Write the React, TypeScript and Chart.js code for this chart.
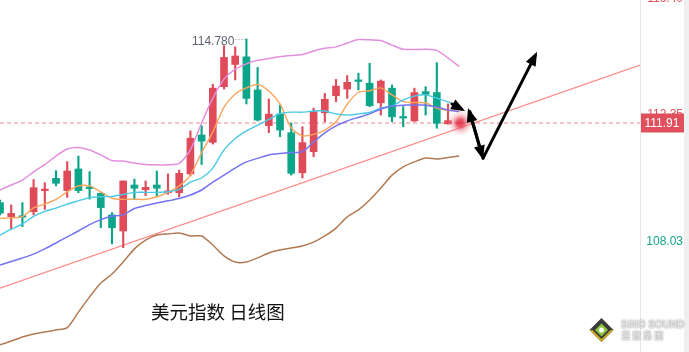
import React, { useEffect, useRef } from "react";
import { Chart, registerables } from "chart.js";

Chart.register(...registerables);

// ---- candle data (index 0 = leftmost visible bar) ----
const candleOpen = [109.19,108.71,108.73,108.88,109.60,110.02,109.60,110.34,109.69,109.51,108.77,108.22,109.79,109.63,109.79,109.53,109.53,110.17,111.50,111.25,113.15,113.91,114.17,113.04,111.82,112.22,111.58,110.21,110.93,112.26,112.84,113.07,113.36,113.27,112.60,113.10,112.10,111.98,112.98,112.95,111.88,111.89];
const candleHigh = [109.28,109.11,109.19,109.98,109.87,110.28,110.59,110.78,110.25,109.52,108.85,109.93,109.99,109.93,110.27,110.17,110.30,111.64,111.82,113.23,114.55,114.51,114.78,113.81,112.73,112.52,111.91,111.78,112.42,112.92,113.40,113.53,113.61,113.95,113.38,113.21,112.47,113.10,113.15,113.97,112.56,111.96];
const candleLow = [108.77,108.29,108.37,108.77,108.96,109.76,109.37,109.53,109.31,108.33,107.78,107.65,109.30,109.43,109.43,109.47,109.39,110.10,110.49,111.19,113.07,113.38,112.56,111.98,111.58,111.44,110.13,110.03,110.76,111.95,112.64,112.75,113.04,112.47,112.18,111.95,111.78,111.96,112.18,111.73,111.87,111.86];
const candleClose = [108.83,108.82,108.69,109.70,109.64,109.85,110.27,109.60,109.67,109.02,108.33,109.93,109.68,109.71,109.68,109.59,110.19,111.39,111.29,113.10,114.15,114.20,112.75,112.01,112.21,111.67,110.19,111.24,112.30,112.72,113.17,113.30,113.33,112.50,113.34,112.12,112.08,112.95,112.89,111.90,111.99,111.91];

// ---- indicator lines ----
const ma5 = [108.65,108.67,108.71,109.01,109.14,109.30,109.56,109.76,109.76,109.56,109.34,109.30,109.31,109.30,109.39,109.54,109.76,110.13,110.90,111.60,112.45,112.90,113.11,113.23,113.00,112.56,111.74,111.47,111.52,111.67,111.95,112.55,112.96,113.01,113.11,112.87,112.64,112.61,112.60,112.41,112.34,112.32];
const ma10 = [108.08,108.28,108.46,108.72,108.89,109.00,109.14,109.25,109.36,109.39,109.40,109.47,109.54,109.54,109.54,109.56,109.64,109.89,110.03,110.37,110.99,111.38,111.64,111.84,112.03,112.23,112.28,112.28,112.32,112.32,112.22,112.18,112.22,112.27,112.42,112.49,112.70,112.83,112.87,112.76,112.63,112.46];
const ma20 = [107.06,107.18,107.30,107.43,107.61,107.81,108.02,108.22,108.44,108.60,108.73,108.77,108.99,109.09,109.18,109.25,109.33,109.45,109.62,109.89,110.13,110.37,110.58,110.70,110.82,110.87,110.90,110.93,111.26,111.57,111.81,111.98,112.10,112.22,112.39,112.49,112.52,112.52,112.52,112.46,112.35,112.30];
const bollUpper = [109.62,109.79,109.96,110.24,110.49,110.78,111.02,111.07,110.99,110.82,110.63,110.61,110.54,110.49,110.48,110.48,110.53,110.99,111.91,112.76,113.41,113.75,113.93,114.05,114.11,114.18,114.22,114.25,114.37,114.46,114.51,114.64,114.76,114.75,114.73,114.57,114.43,114.42,114.43,114.39,114.13,113.84];
const bollLower = [104.33,104.46,104.60,104.70,104.77,104.84,104.92,105.45,105.97,106.44,106.75,107.16,107.61,107.91,108.08,108.12,108.15,108.05,108.05,107.74,107.37,107.16,107.16,107.30,107.47,107.57,107.64,107.71,107.84,108.05,108.32,108.70,108.94,109.28,109.69,110.13,110.41,110.58,110.71,110.68,110.73,110.78];

// trend line (two anchor points: bar index, price)
const trendX = [0, 57.14];
const trendY = [106.27, 113.89];

// hand-drawn arrows: [fromIndex, fromPrice, toIndex, toPrice]
const arrowSegments = [
  [40.36, 112.56, 41.52, 112.32],
  [43.13, 110.71, 41.79, 112.42],
  [41.96, 112.29, 43.13, 110.66],
  [43.13, 110.71, 47.95, 114.34],
];

// axis
const xMin = 0;
const xMax = 57.14;
const yMin = 104.086;
const yMax = 116.112;
const axisTickValues = [116.40, 112.35, 108.03];
const axisTickLabels = ["116.40", "112.35", "108.03"];
const axisTickColors = ["#e0505c", "#e0505c", "#12a58a"];
const lastPrice = 111.91;
const lastPriceLabel = "111.91";
const highIndex = 22;
const highLabel = "114.780";
const titleText = "美元指数 日线图";
const logoLine1 = "SiNO SOUND";
const logoLine2 = "漢 聲 集 團";

const RED = "#e04b59";
const GREEN = "#0ba58a";

function drawArrow(ctx: CanvasRenderingContext2D, x1: number, y1: number, x2: number, y2: number) {
  const ang = Math.atan2(y2 - y1, x2 - x1);
  const head = 14;
  const half = 5.5;
  const bx = x2 - head * Math.cos(ang);
  const by = y2 - head * Math.sin(ang);
  ctx.beginPath();
  ctx.moveTo(x1, y1);
  ctx.lineTo(x2 - 4 * Math.cos(ang), y2 - 4 * Math.sin(ang));
  ctx.stroke();
  ctx.beginPath();
  ctx.moveTo(x2, y2);
  ctx.lineTo(bx + half * Math.sin(ang), by - half * Math.cos(ang));
  ctx.lineTo(bx - half * Math.sin(ang), by + half * Math.cos(ang));
  ctx.closePath();
  ctx.fill();
}

const overlayPlugin = {
  id: "overlay",
  afterDatasetsDraw(chart: any) {
    const ctx: CanvasRenderingContext2D = chart.ctx;
    const xs = chart.scales.x;
    const ys = chart.scales.y;
    const area = chart.chartArea;
    ctx.save();
    ctx.beginPath();
    ctx.rect(area.left, area.top, area.right - area.left, area.bottom - area.top);
    ctx.clip();

    // high label
    const hx = xs.getPixelForValue(highIndex);
    const hy = ys.getPixelForValue(candleHigh[highIndex]);
    ctx.font = '12px "Liberation Sans", Arial, sans-serif';
    ctx.fillStyle = "#5d6470";
    ctx.textAlign = "right";
    ctx.textBaseline = "middle";
    ctx.fillText(highLabel, hx - 12, hy + 3);
    ctx.strokeStyle = "#8a8f98";
    ctx.lineWidth = 1;
    ctx.setLineDash([1, 2]);
    ctx.beginPath();
    ctx.moveTo(hx - 11, hy + 0.5);
    ctx.lineTo(hx - 1, hy + 0.5);
    ctx.stroke();
    ctx.setLineDash([]);

    // glow on current price
    const gx = xs.getPixelForValue(candleOpen.length - 1 + 0.1);
    const gy = ys.getPixelForValue(lastPrice);
    const g = ctx.createRadialGradient(gx, gy, 0, gx, gy, 13);
    g.addColorStop(0, "rgba(225,60,80,1)");
    g.addColorStop(0.3, "rgba(228,70,90,0.85)");
    g.addColorStop(0.6, "rgba(236,120,135,0.4)");
    g.addColorStop(1, "rgba(240,160,170,0)");
    ctx.fillStyle = g;
    ctx.beginPath();
    ctx.arc(gx, gy, 13, 0, Math.PI * 2);
    ctx.fill();

    // arrows
    ctx.strokeStyle = "#000";
    ctx.fillStyle = "#000";
    ctx.lineWidth = 3;
    ctx.lineCap = "round";
    for (const s of arrowSegments) {
      drawArrow(
        ctx,
        xs.getPixelForValue(s[0]),
        ys.getPixelForValue(s[1]),
        xs.getPixelForValue(s[2]),
        ys.getPixelForValue(s[3])
      );
    }
    ctx.restore();
  },
  afterDraw(chart: any) {
    const ctx: CanvasRenderingContext2D = chart.ctx;
    const ys = chart.scales.y;
    const area = chart.chartArea;
    const W = chart.width;
    const H = chart.height;
    ctx.save();
    // right gutter strip
    ctx.fillStyle = "#efefef";
    ctx.fillRect(W - 5, 0, 5, H);
    // axis border
    ctx.strokeStyle = "#e6e6e6";
    ctx.lineWidth = 1;
    ctx.beginPath();
    ctx.moveTo(area.right + 0.5, 0);
    ctx.lineTo(area.right + 0.5, H);
    ctx.stroke();

    ctx.font = '12px "Liberation Sans", Arial, sans-serif';
    ctx.textAlign = "right";
    ctx.textBaseline = "middle";
    axisTickValues.forEach((v, i) => {
      const y = Math.max(ys.getPixelForValue(v) + 5, -1);
      ctx.fillStyle = axisTickColors[i];
      ctx.fillText(axisTickLabels[i], W - 6, y);
    });

    // last price box
    const py = ys.getPixelForValue(lastPrice);
    ctx.fillStyle = "#e0505c";
    ctx.fillRect(area.right + 1, py - 9.5, W - 6 - area.right, 19);
    ctx.fillStyle = "#ffffff";
    ctx.textAlign = "center";
    ctx.font = '12px "Liberation Sans", Arial, sans-serif';
    ctx.fillText(lastPriceLabel, (area.right + W - 5) / 2, py + 0.5);

    // title
    ctx.fillStyle = "#111111";
    ctx.textAlign = "left";
    ctx.font = '18.5px "Noto Sans CJK SC", sans-serif';
    ctx.fillText(titleText, 151, 312);

    // logo
    const cx = 601.5, cy = 330, r = 12;
    ctx.beginPath();
    ctx.moveTo(cx, cy - r);
    ctx.lineTo(cx + r, cy);
    ctx.lineTo(cx, cy + r);
    ctx.lineTo(cx - r, cy);
    ctx.closePath();
    ctx.fillStyle = "#3a3a3a";
    ctx.fill();
    ctx.beginPath();
    ctx.moveTo(cx + r, cy);
    ctx.lineTo(cx, cy + r);
    ctx.lineTo(cx - r, cy);
    ctx.lineTo(cx - r + 3, cy);
    ctx.lineTo(cx, cy + r - 3);
    ctx.lineTo(cx + r - 3, cy);
    ctx.closePath();
    ctx.fillStyle = "#c9a92a";
    ctx.fill();
    const r2 = 6.5;
    ctx.beginPath();
    ctx.moveTo(cx, cy - r2);
    ctx.lineTo(cx + r2, cy);
    ctx.lineTo(cx, cy + r2);
    ctx.lineTo(cx - r2, cy);
    ctx.closePath();
    ctx.fillStyle = "#8cc63f";
    ctx.fill();
    ctx.beginPath();
    ctx.arc(cx, cy, 2.5, 0, Math.PI * 2);
    ctx.fillStyle = "#ffffff";
    ctx.fill();

    ctx.textAlign = "left";
    ctx.font = 'bold 10px "Liberation Sans", Arial, sans-serif';
    ctx.shadowColor = "rgba(0,0,0,0.5)";
    ctx.shadowBlur = 2;
    ctx.fillStyle = "#e4e4e4";
    ctx.fillText(logoLine1, 621, 325);
    ctx.font = 'bold 9px "Noto Sans CJK TC", sans-serif';
    ctx.fillText(logoLine2, 621, 336);
    ctx.restore();
  },
};

export default function App() {
  const ref = useRef<HTMLCanvasElement | null>(null);

  useEffect(() => {
    document.body.style.margin = "0";
    const canvas = ref.current;
    if (!canvas) return;
    const colors = candleOpen.map((o, i) => (candleClose[i] >= o ? RED : GREEN));
    const toPts = (arr: number[]) => arr.map((v, i) => ({ x: i, y: v }));
    const lineDs = (label: string, data: number[], color: string, width = 1.4) => ({
      type: "line" as const,
      label,
      data: toPts(data),
      borderColor: color,
      borderWidth: width,
      pointRadius: 0,
      tension: 0.25,
      fill: false,
      order: 0,
    });

    const chart = new Chart(canvas, {
      type: "bar",
      data: {
        datasets: [
          {
            type: "line",
            label: "price",
            data: [
              { x: xMin, y: lastPrice },
              { x: xMax, y: lastPrice },
            ],
            borderColor: "#f3b0b5",
            borderWidth: 1.5,
            borderDash: [4, 3],
            pointRadius: 0,
            order: 5,
          } as any,
          {
            type: "line",
            label: "trend",
            data: trendX.map((x, i) => ({ x, y: trendY[i] })),
            borderColor: "#ff8a8a",
            borderWidth: 1.3,
            pointRadius: 0,
            order: 4,
          } as any,
          {
            type: "bar",
            label: "wick",
            data: candleHigh.map((h, i) => ({ x: i, y: [candleLow[i], h] })),
            backgroundColor: colors,
            barThickness: 1.5,
            grouped: false,
            order: 3,
          } as any,
          {
            type: "bar",
            label: "body",
            data: candleOpen.map((o, i) => ({ x: i, y: [o, candleClose[i]] })),
            backgroundColor: colors,
            barThickness: 7,
            minBarLength: 1.5,
            grouped: false,
            order: 2,
          } as any,
          lineDs("upper", bollUpper, "#e38ede", 1.5),
          lineDs("lower", bollLower, "#b27a52", 1.5),
          lineDs("ma20", ma20, "#7474f2", 1.5),
          lineDs("ma10", ma10, "#48c9e4", 1.4),
          lineDs("ma5", ma5, "#fba55c", 1.4),
        ],
      },
      options: {
        animation: false,
        responsive: false,
        maintainAspectRatio: false,
        devicePixelRatio: 1,
        layout: { padding: { left: 0, right: 49, top: 0, bottom: 0 } },
        plugins: { legend: { display: false }, tooltip: { enabled: false } },
        scales: {
          x: { type: "linear", min: xMin, max: xMax, offset: false, display: false },
          y: { type: "linear", min: yMin, max: yMax, display: false },
        },
      },
      plugins: [overlayPlugin],
    } as any);
    return () => chart.destroy();
  }, []);

  return (
    <div style={{ width: 689, height: 352, background: "#ffffff" }}>
      <canvas ref={ref} width={689} height={352} style={{ display: "block" }} />
    </div>
  );
}
